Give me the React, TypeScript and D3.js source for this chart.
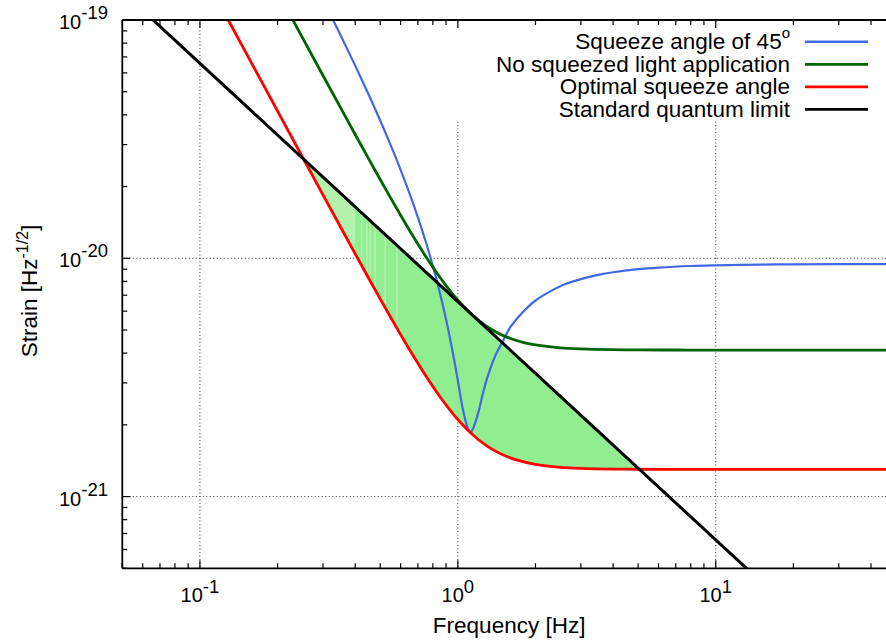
import React from 'react';
import * as d3 from 'd3';

// Quantum-noise strain spectra of an interferometer (log-log).
const sqlFreq = [0.05, 0.1, 1, 10, 50];
const sqlStrain = [131.6e-21, 65.8e-21, 6.58e-21, 0.658e-21, 0.1316e-21];

const optFreq = [0.12, 0.13, 0.15, 0.2, 0.25, 0.3, 0.35, 0.4, 0.45, 0.5, 0.55, 0.6, 0.65, 0.7, 0.75, 0.8, 0.85, 0.9, 0.95, 1.0, 1.1, 1.2, 1.3, 1.4, 1.5, 1.7, 2.0, 2.5, 3, 4, 5, 7, 10, 20, 50];
const optStrain = [115.1, 98.06, 73.65, 41.45, 26.54, 18.46, 13.59, 10.44, 8.286, 6.754, 5.63, 4.783, 4.132, 3.623, 3.22, 2.897, 2.636, 2.424, 2.25, 2.106, 1.888, 1.736, 1.628, 1.551, 1.494, 1.421, 1.364, 1.327, 1.313, 1.304, 1.302, 1.3, 1.3, 1.3, 1.3].map((v) => v * 1e-21);

const noSqzFreq = [0.2, 0.22, 0.25, 0.3, 0.35, 0.4, 0.45, 0.5, 0.55, 0.6, 0.65, 0.7, 0.75, 0.8, 0.85, 0.9, 0.95, 1.0, 1.05, 1.1, 1.15, 1.2, 1.3, 1.4, 1.5, 1.6, 1.8, 2.0, 2.5, 3, 4, 5, 7, 10, 20, 50];
const noSqzStrain = [131.3, 108.6, 84.1, 58.48, 43.06, 33.07, 26.25, 21.4, 17.84, 15.16, 13.09, 11.48, 10.2, 9.18, 8.354, 7.682, 7.13, 6.675, 6.299, 5.986, 5.724, 5.504, 5.162, 4.917, 4.737, 4.605, 4.43, 4.327, 4.208, 4.164, 4.133, 4.125, 4.121, 4.12, 4.12, 4.12].map((v) => v * 1e-21);

const sqz45Freq = [0.3, 0.35, 0.4, 0.45, 0.5, 0.55, 0.6, 0.65, 0.7, 0.75, 0.8, 0.85, 0.9, 0.95, 1.0, 1.05, 1.1, 1.12, 1.15, 1.2, 1.25, 1.3, 1.4, 1.5, 1.6, 1.8, 2.0, 2.3, 2.6, 3.0, 3.5, 4.0, 5.0, 6.0, 8.0, 10, 15, 20, 30, 50];
const sqz45Strain = [121.6, 86.9, 64.35, 48.91, 37.87, 29.7, 23.51, 18.68, 14.86, 11.79, 9.29, 7.24, 5.55, 4.17, 3.07, 2.28, 1.9, 1.86, 1.95, 2.25, 2.7, 3.15, 3.92, 4.52, 5.15, 6.0, 6.65, 7.3, 7.78, 8.18, 8.52, 8.74, 9.0, 9.14, 9.28, 9.34, 9.41, 9.43, 9.45, 9.46].map((v) => v * 1e-21);

const xMajor = [0.1, 1, 10];
const yMajor = [1e-21, 1e-20, 1e-19];

// shaded band: lighter tint near its low-frequency tip, with a few light seams
const fillPaleUpTo = 0.4;
const fillSeams = [0.424, 0.444, 0.457, 0.478, 0.5225, 0.58];

const legendItems = [
  { label: 'Squeeze angle of 45', sup: 'o', color: '#4169e1', width: 2.4 },
  { label: 'No squeezed light application', sup: '', color: '#006400', width: 2.8 },
  { label: 'Optimal squeeze angle', sup: '', color: '#ff0000', width: 2.8 },
  { label: 'Standard quantum limit', sup: '', color: '#000000', width: 2.8 },
];

const W = 886;
const H = 640;
const left = 122.3;
const top = 20;
const bottom = 568.3;
const right = 896;

const x = d3.scaleLog().domain([0.05, 50]).range([left, right]);
const y = d3.scaleLog().domain([5e-22, 1e-19]).range([bottom, top]);

type P = [number, number];
const zip = (f: number[], s: number[]): P[] => f.map((v, i) => [v, s[i]]);

const line = d3
  .line<P>()
  .x((d) => x(d[0]))
  .y((d) => y(d[1]))
  .curve(d3.curveCatmullRom.alpha(0.5));

const sqlPts = zip(sqlFreq, sqlStrain);
const optPts = zip(optFreq, optStrain);
const noSqzPts = zip(noSqzFreq, noSqzStrain);
const sqz45Pts = zip(sqz45Freq, sqz45Strain);

const font = '"Liberation Sans", Arial, Helvetica, sans-serif';
const fillGreen = '#90ee90';
const fillPale = '#b3f1ad';

export default function App() {
  const sqlPath = line(sqlPts) as string;
  const optPath = line(optPts) as string;
  // region under the SQL line and region above the optimal curve; their overlap is shaded
  const belowSql = `${sqlPath}L${x(sqlFreq[sqlFreq.length - 1])},${bottom + 50}L${x(sqlFreq[0])},${bottom + 50}Z`;
  const aboveOpt = `${optPath}L${x(optFreq[optFreq.length - 1])},${top - 50}L${x(optFreq[0])},${top - 50}Z`;

  const xTicks = x.ticks();
  const yTicks = y.ticks();
  const isMajor = (v: number) => Math.abs(Math.log10(v) - Math.round(Math.log10(v))) < 1e-6;

  const legendRight = 790;
  const legendRow0 = 49.3;
  const legendStep = 22.5;

  return (
    <svg width={W} height={H} style={{ position: 'absolute', left: 0, top: 0 }} fontFamily={font}>
      <defs>
        <clipPath id="plotArea">
          <rect x={left} y={top} width={right - left} height={bottom - top} />
        </clipPath>
        <clipPath id="belowSql">
          <path d={belowSql} />
        </clipPath>
        <clipPath id="aboveOpt">
          <path d={aboveOpt} />
        </clipPath>
      </defs>
      <rect x={0} y={0} width={W} height={H} fill="#fff" />

      {/* grid */}
      <g stroke="#333" strokeWidth={1} strokeDasharray="1,2.5">
        {xMajor.map((v) => (
          <line key={`gx${v}`} x1={x(v)} x2={x(v)} y1={top} y2={bottom} />
        ))}
        {yMajor.slice(0, 2).map((v) => (
          <line key={`gy${v}`} x1={left} x2={right} y1={y(v)} y2={y(v)} />
        ))}
      </g>

      {/* legend background */}
      <rect x={446} y={top + 2} width={W - 446} height={98} fill="#fff" />

      <g clipPath="url(#plotArea)">
        <g clipPath="url(#belowSql)">
          <g clipPath="url(#aboveOpt)">
            <rect x={left} y={top} width={right - left} height={bottom - top} fill={fillGreen} />
            <rect x={left} y={top} width={x(fillPaleUpTo) - left} height={bottom - top} fill={fillPale} />
            {fillSeams.map((f) => (
              <rect key={`seam${f}`} x={x(f) - 0.8} y={top} width={1.6} height={bottom - top} fill={fillPale} />
            ))}
          </g>
        </g>
        <path d={line(sqz45Pts) as string} fill="none" stroke="#4169e1" strokeWidth={2.2} />
        <path d={line(noSqzPts) as string} fill="none" stroke="#006400" strokeWidth={2.8} />
        <path d={optPath} fill="none" stroke="#ff0000" strokeWidth={2.8} />
        <path d={sqlPath} fill="none" stroke="#000" strokeWidth={3} />
      </g>

      {/* legend */}
      {legendItems.map((it, i) => {
        const by = legendRow0 + i * legendStep;
        return (
          <g key={it.label}>
            <text x={legendRight} y={by} textAnchor="end" fontSize={22.5} fill="#000">
              {it.label}
              {it.sup && (
                <tspan dy={-11} fontSize={15}>
                  {it.sup}
                </tspan>
              )}
            </text>
            <line x1={805} x2={868} y1={by - 7.5} y2={by - 7.5} stroke={it.color} strokeWidth={it.width} />
          </g>
        );
      })}

      {/* axes frame */}
      <g stroke="#000" strokeWidth={1.8} fill="none">
        <line x1={left} x2={left} y1={top} y2={bottom} />
        <line x1={left} x2={W} y1={bottom} y2={bottom} />
        <line x1={left} x2={W} y1={top} y2={top} />
      </g>

      {/* ticks */}
      <g stroke="#000" strokeWidth={1.2}>
        {xTicks.map((v, i) => {
          const len = isMajor(v) ? 8 : 5;
          return (
            <g key={`tx${i}`}>
              <line x1={x(v)} x2={x(v)} y1={bottom} y2={bottom - len} />
              <line x1={x(v)} x2={x(v)} y1={top} y2={top + len} />
            </g>
          );
        })}
        {yTicks.map((v, i) => {
          const len = isMajor(v) ? 8 : 5;
          return <line key={`ty${i}`} x1={left} x2={left + len} y1={y(v)} y2={y(v)} />;
        })}
      </g>

      {/* tick labels */}
      {xMajor.map((v) => (
        <text key={`lx${v}`} x={x(v)} y={601.7} textAnchor="middle" fontSize={20} fill="#000">
          10
          <tspan dy={-9} fontSize={18.5}>
            {String(Math.round(Math.log10(v)))}
          </tspan>
        </text>
      ))}
      {yMajor.map((v) => (
        <text key={`ly${v}`} x={108} y={y(v) + 9} textAnchor="end" fontSize={20} fill="#000">
          10
          <tspan dy={-10} fontSize={18.5}>
            {String(Math.round(Math.log10(v)))}
          </tspan>
        </text>
      ))}

      {/* axis titles */}
      <text x={(left + right) / 2} y={633.3} textAnchor="middle" fontSize={22.5} fill="#000">
        Frequency [Hz]
      </text>
      <text transform={`translate(37,291) rotate(-90)`} textAnchor="middle" fontSize={22.5} fill="#000">
        Strain [Hz
        <tspan dy={-9} fontSize={16}>
          -1/2
        </tspan>
        <tspan dy={9}>]</tspan>
      </text>
    </svg>
  );
}
